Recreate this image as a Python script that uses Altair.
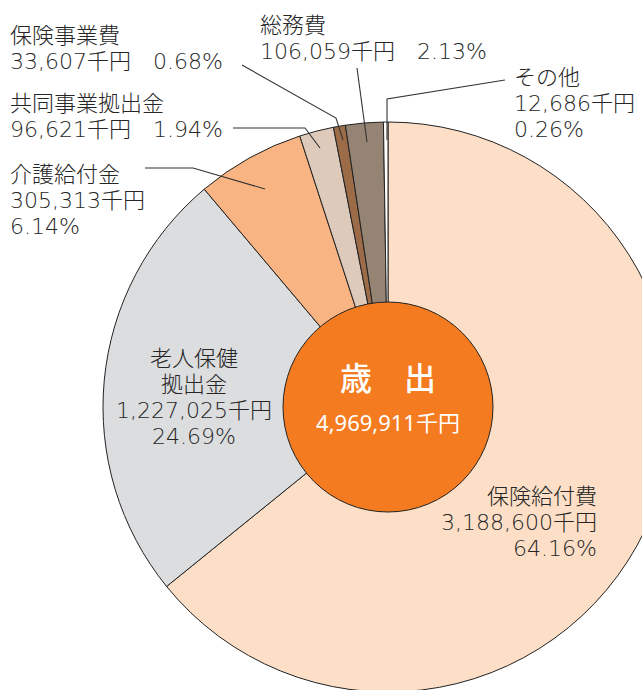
import altair as alt
import pandas as pd

# ---- data ----
categories = ["保険給付費", "老人保健拠出金", "介護給付金", "共同事業拠出金", "保険事業費", "総務費", "その他"]
amounts = [3188600, 1227025, 305313, 96621, 33607, 106059, 12686]
percents = ["64.16%", "24.69%", "6.14%", "1.94%", "0.68%", "2.13%", "0.26%"]
colors = ["#FCDFC6", "#DCDDDF", "#F8B583", "#DDCABB", "#9C6B47", "#958474", "#FFFFFF"]
total_label = "4,969,911千円"
center_title = "歳　出"

FONT = "DejaVu Sans, Noto Sans CJK JP"
TXT = "#262626"
CX, CY = 388, 407
R_OUT, R_IN = 285, 105

pie_df = pd.DataFrame({
    "cat": categories,
    "amt": amounts,
    "order": list(range(len(categories))),
    "color": colors,
})

def fmt(v):
    return f"{v:,}千円"

label_lines = {
    "保険給付費": ["保険給付費", fmt(3188600), "64.16%"],
    "老人保健拠出金": ["老人保健", "拠出金", fmt(1227025), "24.69%"],
    "介護給付金": ["介護給付金", fmt(305313), "6.14%"],
    "共同事業拠出金": ["共同事業拠出金", fmt(96621) + "　" + "1.94%"],
    "保険事業費": ["保険事業費", fmt(33607) + "　" + "0.68%"],
    "総務費": ["総務費", fmt(106059) + "　" + "2.13%"],
    "その他": ["その他", fmt(12686), "0.26%"],
}

# label layout (pixel position of first-line baseline)
label_pos = {
    "保険給付費": (597, 504, "right"),
    "老人保健拠出金": (194, 366, "center"),
    "介護給付金": (10, 182, "left"),
    "共同事業拠出金": (10, 111, "left"),
    "保険事業費": (10, 43, "left"),
    "総務費": (260, 33, "left"),
    "その他": (514, 85, "left"),
}

leader_pts = {
    "保険事業費": [(242, 65), (336, 118), (343, 140)],
    "共同事業拠出金": [(233, 128), (305, 128), (320, 148)],
    "介護給付金": [(145, 168), (193, 168), (265, 189)],
    "総務費": [(357, 68), (367, 142)],
    "その他": [(505, 80), (387, 99), (387, 140)],
}

pie = alt.Chart(pie_df).mark_arc(
    outerRadius=R_OUT, stroke="#222222", strokeWidth=1
).encode(
    theta=alt.Theta("amt:Q", stack=True),
    order=alt.Order("order:Q"),
    color=alt.Color("color:N", scale=None),
    x=alt.value(CX),
    y=alt.value(CY),
)

center_df = pd.DataFrame({"v": [1]})
center = alt.Chart(center_df).mark_arc(
    outerRadius=R_IN, stroke="#222222", strokeWidth=1, color="#F47B20"
).encode(
    theta=alt.Theta("v:Q"),
    x=alt.value(CX),
    y=alt.value(CY),
)

center_txt_df = pd.DataFrame({
    "t": [center_title, total_label],
    "x": [CX, CX],
    "y": [390, 431],
})
center_title_layer = alt.Chart(center_txt_df.iloc[[0]]).mark_text(
    font="Noto Sans CJK JP", fontSize=32, fontWeight=500, color="white", align="center", baseline="alphabetic"
).encode(
    x=alt.X("x:Q", scale=None), y=alt.Y("y:Q", scale=None), text="t:N"
)
center_num_layer = alt.Chart(center_txt_df.iloc[[1]]).mark_text(
    font="Noto Sans, Noto Sans CJK JP", fontSize=22, fontWeight=400, color="white", align="center", baseline="alphabetic"
).encode(
    x=alt.X("x:Q", scale=None), y=alt.Y("y:Q", scale=None), text="t:N"
)

rows = []
for c in categories:
    x, y, a = label_pos[c]
    rows.append({"cat": c, "x": x, "y": y, "align": a, "lines": label_lines[c]})
lab_df = pd.DataFrame(rows)

text_layers = []
for a in ["left", "right", "center"]:
    sub = lab_df[lab_df["align"] == a]
    text_layers.append(
        alt.Chart(sub).mark_text(
            font=FONT, fontSize=22, fontWeight=300, color=TXT, align=a,
            baseline="alphabetic", lineHeight=26
        ).encode(
            x=alt.X("x:Q", scale=None), y=alt.Y("y:Q", scale=None), text="lines"
        )
    )

lrows = []
for c, pts in leader_pts.items():
    for i, (px, py) in enumerate(pts):
        lrows.append({"cat": c, "i": i, "px": px, "py": py})
leader_df = pd.DataFrame(lrows)
leaders = alt.Chart(leader_df).mark_line(color="#333333", strokeWidth=1.1).encode(
    x=alt.X("px:Q", scale=None),
    y=alt.Y("py:Q", scale=None),
    detail="cat:N",
    order="i:Q",
)

chart = alt.layer(
    pie, center, leaders, *text_layers, center_title_layer, center_num_layer
).resolve_scale(theta="independent").properties(
    width=642, height=690,
    autosize=alt.AutoSizeParams(type="none"),
    padding=0,
    background="white",
).configure_view(stroke=None)

chart.save("out.html", embed_options={"renderer": "svg", "actions": False})
